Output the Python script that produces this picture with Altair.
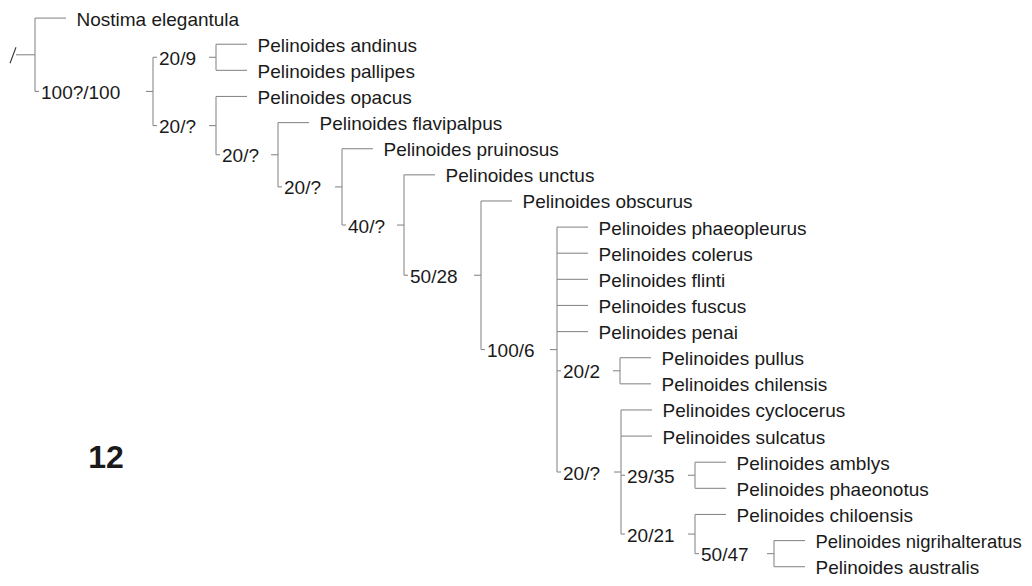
import altair as alt
import pandas as pd

# ---- data -------------------------------------------------------------
leaf_names = [
    "Nostima elegantula",
    "Pelinoides andinus",
    "Pelinoides pallipes",
    "Pelinoides opacus",
    "Pelinoides flavipalpus",
    "Pelinoides pruinosus",
    "Pelinoides unctus",
    "Pelinoides obscurus",
    "Pelinoides phaeopleurus",
    "Pelinoides colerus",
    "Pelinoides flinti",
    "Pelinoides fuscus",
    "Pelinoides penai",
    "Pelinoides pullus",
    "Pelinoides chilensis",
    "Pelinoides cyclocerus",
    "Pelinoides sulcatus",
    "Pelinoides amblys",
    "Pelinoides phaeonotus",
    "Pelinoides chiloensis",
    "Pelinoides nigrihalteratus",
    "Pelinoides australis",
]

node_ids = ["root", "A", "B", "C", "D", "E", "F", "G", "H", "I", "J", "K", "L", "M"]
node_labels = ["", "100?/100", "20/9", "20/?", "20/?", "20/?", "40/?", "50/28",
               "100/6", "20/2", "20/?", "29/35", "20/21", "50/47"]
# horizontal position (tree depth) of each node's vertical line
node_x = [35, 153, 216, 216, 278, 342, 404, 481, 557, 620, 621, 695, 695, 774]
node_children = [
    ["Nostima elegantula", "A"],
    ["B", "C"],
    ["Pelinoides andinus", "Pelinoides pallipes"],
    ["Pelinoides opacus", "D"],
    ["Pelinoides flavipalpus", "E"],
    ["Pelinoides pruinosus", "F"],
    ["Pelinoides unctus", "G"],
    ["Pelinoides obscurus", "H"],
    ["Pelinoides phaeopleurus", "Pelinoides colerus", "Pelinoides flinti",
     "Pelinoides fuscus", "Pelinoides penai", "I", "J"],
    ["Pelinoides pullus", "Pelinoides chilensis"],
    ["Pelinoides cyclocerus", "Pelinoides sulcatus", "K", "L"],
    ["Pelinoides amblys", "Pelinoides phaeonotus"],
    ["Pelinoides chiloensis", "M"],
    ["Pelinoides nigrihalteratus", "Pelinoides australis"],
]
root_tail_x = [16]

panel_text = ["12"]
panel_x = [106]
panel_row = [16.85]

# ---- layout computed from the tree -------------------------------------
TIP = 31        # terminal branch length
TXT = 41.5      # gap from vertical to taxon name
STUB = 4
LBL = 6
DASH = 7
ROW_PX = 26.124
ROW0 = 18.1
FS = 19
W, H = 1016, 570
RIGHT = 8 + W - 2

# approximate Arial advance widths (per 1000 em) for fitting long names
AW = {"P": 667, "N": 722, "e": 556, "l": 222, "i": 222, "n": 556, "o": 556,
      "d": 556, "s": 500, " ": 278, "g": 556, "r": 333, "h": 556, "a": 556,
      "t": 278, "u": 556, "m": 833, "c": 500, "p": 556, "f": 278, "y": 500,
      "b": 556, "v": 500, "/": 278, "?": 556}

def est_width(s, fs):
    return sum(AW.get(ch, 556) for ch in s) / 1000 * fs

row_of = {n: i for i, n in enumerate(leaf_names)}
xv = dict(zip(node_ids, node_x))
lab = dict(zip(node_ids, node_labels))
kids = dict(zip(node_ids, node_children))

ycache = {}
def ypos(n):
    if n in row_of:
        return float(row_of[n])
    if n not in ycache:
        ch = kids[n]
        ycache[n] = (ypos(ch[0]) + ypos(ch[-1])) / 2
    return ycache[n]

segs, texts_rows = [], []
for n in node_ids:
    x = xv[n]
    ys = [ypos(c) for c in kids[n]]
    segs.append(dict(x=x, x2=x, y=min(ys), y2=max(ys), k="g"))
    for c in kids[n]:
        yc = ypos(c)
        if c in row_of:
            segs.append(dict(x=x, x2=x + TIP, y=yc, y2=yc, k="g"))
            tx = x + TXT
            w = est_width(c, FS)
            fs = FS if tx + w <= RIGHT else FS * (RIGHT - tx) / w
            texts_rows.append(dict(x=tx, y=yc, t=c, fs=fs))
        else:
            segs.append(dict(x=x, x2=x + STUB, y=yc, y2=yc, k="g"))
            texts_rows.append(dict(x=x + LBL, y=yc, t=lab[c], fs=FS))
            segs.append(dict(x=xv[c] - DASH, x2=xv[c], y=yc, y2=yc, k="g"))

ry = ypos("root")
segs.append(dict(x=root_tail_x[0], x2=xv["root"], y=ry, y2=ry, k="g"))
segs.append(dict(x=root_tail_x[0] - 6, x2=root_tail_x[0], y=ry + 8.5 / ROW_PX,
                 y2=ry - 7.5 / ROW_PX, k="s"))

seg_df = pd.DataFrame(segs)
name_df = pd.DataFrame(texts_rows)
panel_df = pd.DataFrame(dict(x=panel_x, y=panel_row, t=panel_text))

y0 = -(ROW0 - 8) / ROW_PX
y1 = y0 + H / ROW_PX
xs = alt.Scale(domain=[8, 8 + W], nice=False, zero=False)
ys_ = alt.Scale(domain=[y0, y1], reverse=True, nice=False, zero=False)

rules = alt.Chart(seg_df).mark_rule(strokeWidth=1.1).encode(
    x=alt.X("x:Q", scale=xs, axis=None),
    x2="x2:Q",
    y=alt.Y("y:Q", scale=ys_, axis=None),
    y2="y2:Q",
    color=alt.Color("k:N", scale=alt.Scale(domain=["g", "s"], range=["#8a8a8a", "#333333"]),
                    legend=None),
)

texts = alt.Chart(name_df).mark_text(
    align="left", baseline="middle", dy=1.5, font="Liberation Sans",
    color="#1a1a1a"
).encode(
    x=alt.X("x:Q", scale=xs, axis=None),
    y=alt.Y("y:Q", scale=ys_, axis=None),
    text="t:N",
    size=alt.Size("fs:Q", scale=None, legend=None),
)

panel = alt.Chart(panel_df).mark_text(
    align="center", baseline="middle", font="Liberation Sans",
    fontSize=32, fontWeight="bold", color="#1a1a1a"
).encode(
    x=alt.X("x:Q", scale=xs, axis=None),
    y=alt.Y("y:Q", scale=ys_, axis=None),
    text="t:N",
)

chart = alt.layer(rules, texts, panel).properties(
    width=W, height=H, padding=0, autosize=alt.AutoSizeParams(type="none"),
    background="white",
).configure_view(stroke=None)

chart.save("out.html", embed_options={"renderer": "svg", "actions": False})
